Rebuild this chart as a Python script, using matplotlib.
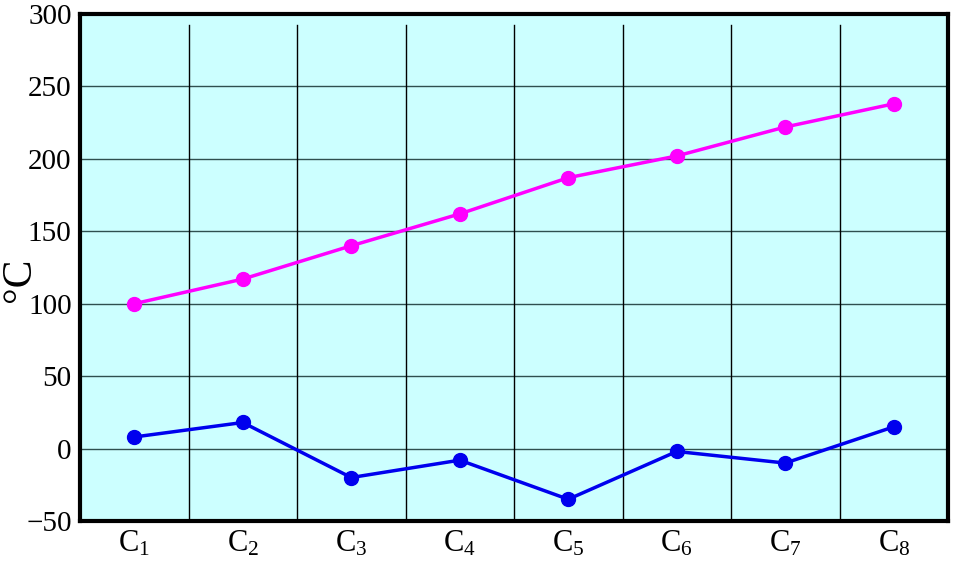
import matplotlib
matplotlib.use("Agg")
import matplotlib.pyplot as plt

plt.rcParams['font.family'] = ['Liberation Serif', 'DejaVu Serif']
plt.rcParams['mathtext.fontset'] = 'custom'
plt.rcParams['mathtext.rm'] = 'Liberation Serif'
plt.rcParams['mathtext.it'] = 'Liberation Serif:italic'

categories = ["C$_{1}$", "C$_{2}$", "C$_{3}$", "C$_{4}$", "C$_{5}$", "C$_{6}$", "C$_{7}$", "C$_{8}$"]
upper = [100, 117, 140, 162, 187, 202, 222, 238]
lower = [8, 18, -20, -8, -35, -2, -10, 15]
yticks = [-50, 0, 50, 100, 150, 200, 250, 300]

fig = plt.figure(figsize=(9.6, 5.62), dpi=100)
ax = fig.add_axes([80/960, 1 - 521/562, 868/960, 507/562])
ax.set_facecolor('#CCFFFF')
x = list(range(len(categories)))

for yv in yticks[1:-1]:
    ax.axhline(yv, color='#2F4F4F', lw=1.0, zorder=1)
for i in range(len(categories) - 1):
    ax.axvline(i + 0.5, ymin=0, ymax=0.978, color='black', lw=1.0, zorder=1)

ax.plot(x, upper, color='#FF00FF', lw=2.5, marker='o', ms=10, zorder=3)
ax.plot(x, lower, color='#0000EE', lw=2.5, marker='o', ms=10, zorder=3)

ax.set_xlim(-0.5, len(categories) - 0.5)
ax.set_ylim(-50, 300)
ax.set_yticks(yticks)
ax.set_yticklabels(["\u221250" if v < 0 else str(v) for v in yticks], fontsize=21)
ax.set_xticks(x)
ax.set_xticklabels(categories, fontsize=22)
ax.tick_params(length=0, pad=6)
ax.set_ylabel("°C", fontsize=30)
ax.yaxis.set_label_coords(-0.047, 0.475)
for s in ax.spines.values():
    s.set_linewidth(3)
    s.set_color('black')

fig.savefig("out.png", dpi=100)
